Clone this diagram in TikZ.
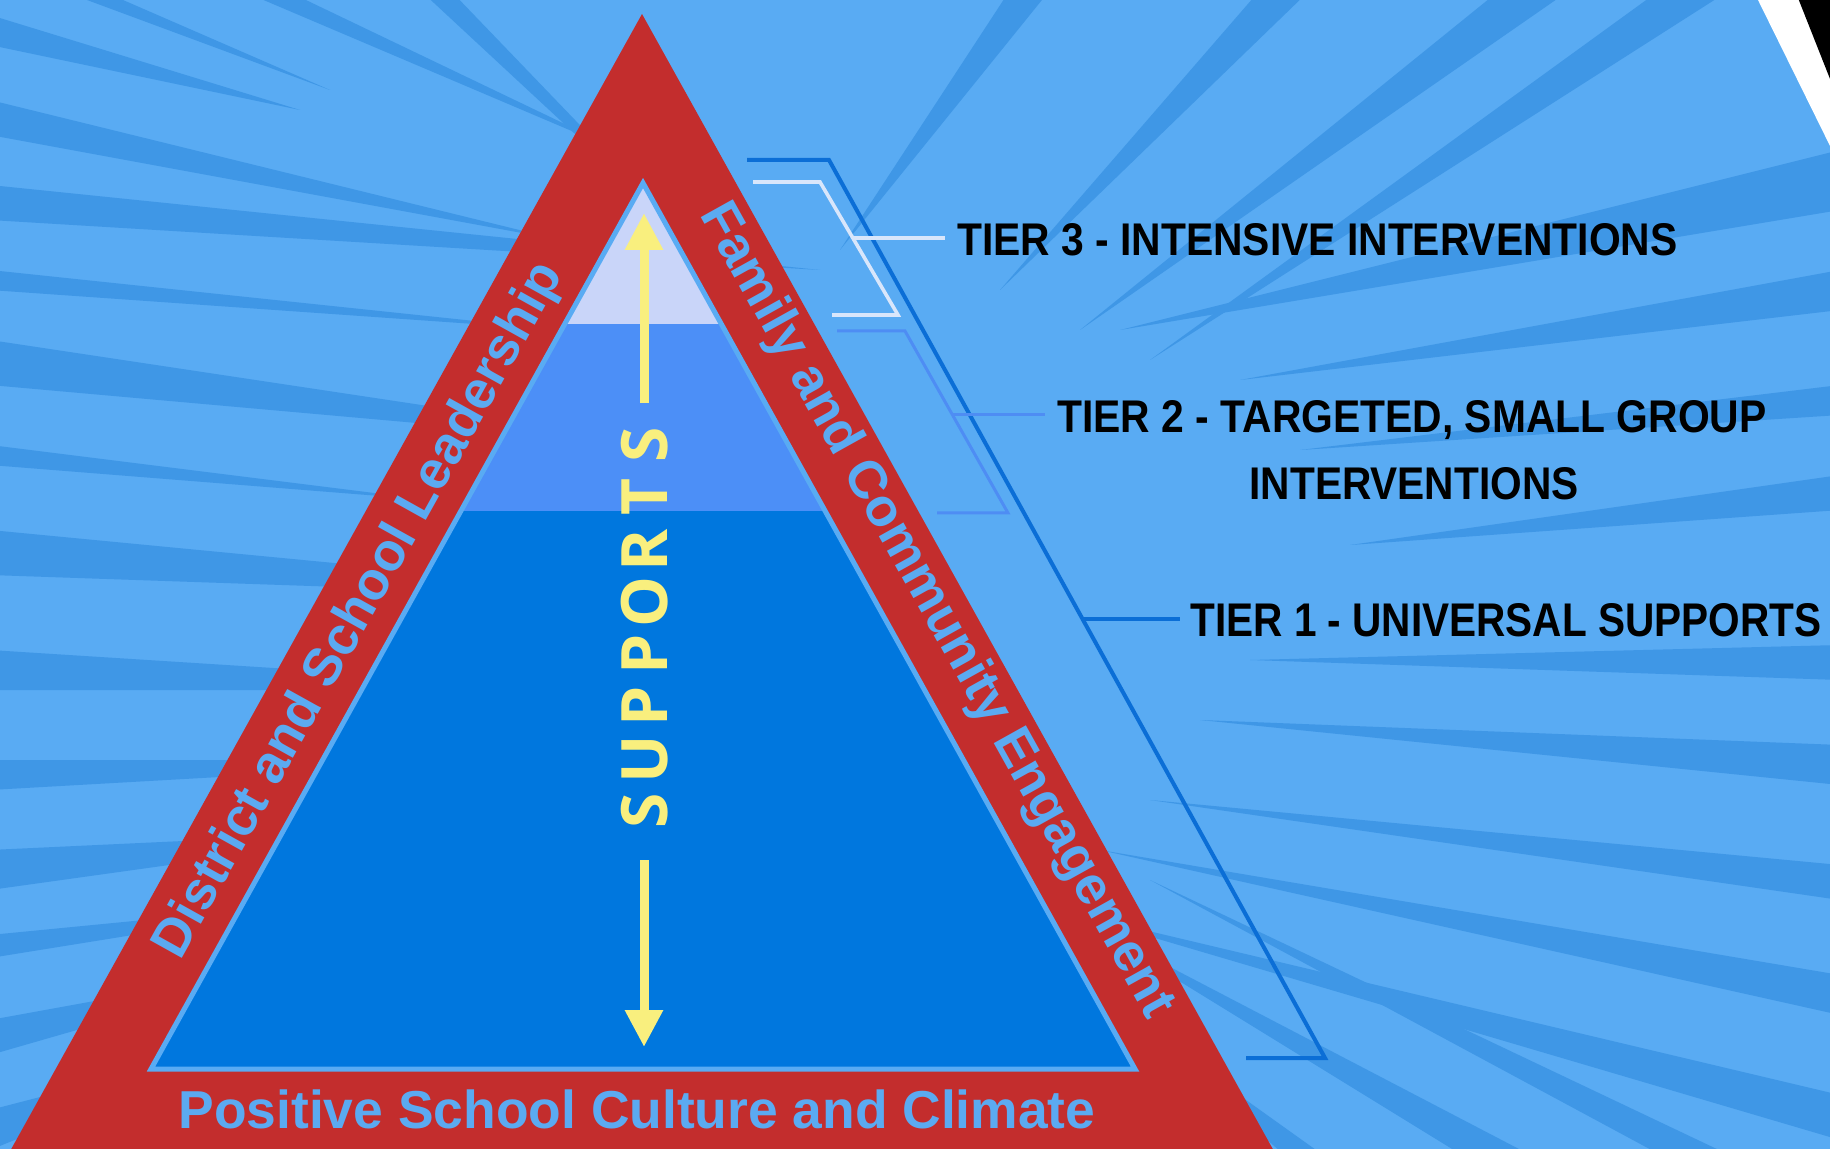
\documentclass[tikz,border=0pt]{standalone}
\usepackage{fontspec}
\usepackage{graphicx}
\setmainfont{Liberation Sans}
\newfontfamily\supfont{Open Sans}
\usetikzlibrary{arrows.meta}
\definecolor{bglight}{HTML}{59ABF3}
\definecolor{bgray}{HTML}{3F97E6}
\definecolor{redband}{HTML}{C32D2D}
\definecolor{tierthree}{HTML}{C9D5F9}
\definecolor{tiertwo}{HTML}{4C8FF7}
\definecolor{tierone}{HTML}{0077DE}
\definecolor{brkdark}{HTML}{0B6ED6}
\definecolor{brklight}{HTML}{D8E6FB}
\definecolor{brkmid}{HTML}{4E8DF3}
\definecolor{suppyellow}{HTML}{F9EF7E}
\definecolor{bandtext}{HTML}{5BAAF1}
\newcommand{\tierbox}[3]{\resizebox{#1}{#2}{\bfseries #3}}
\begin{document}
\begin{tikzpicture}[x=0.5pt,y=-0.5pt,
  ray/.style={fill=bgray},
  bandlbl/.style={text=bandtext, font=\fontsize{26.7pt}{32pt}\selectfont\bfseries, inner sep=0pt},
  tierlbl/.style={text=black, inner sep=0pt, anchor=base west},
  suplbl/.style={text=suppyellow, font=\supfont\fontsize{32pt}{36pt}\selectfont\bfseries, inner sep=0pt, rotate=90},
  suparrow/.style={draw=suppyellow, line width=4.5pt, -{Triangle[length=18.5pt,width=18pt]}},
  brkdarkline/.style={draw=brkdark, line width=2pt},
  brklightline/.style={draw=brklight, line width=1.8pt},
  brkmidline/.style={draw=brkmid, line width=1.5pt}]
\useasboundingbox (0,0) rectangle (1830,1149);
\clip (0,0) rectangle (1830,1149);
\fill[bglight] (0,0) rectangle (1830,1149);
% background speed lines
\foreach \ax/\ay/\bx/\by/\tx/\ty in {
 -10/15/-10/45/300/110, -10/100/-10/135/560/240, -10/185/-10/220/820/270,
 -10/270/-10/290/560/330, -10/340/-10/385/720/450, -10/445/-10/465/430/500,
 -10/530/-10/575/720/600, -10/650/-10/690/620/690, -10/760/-10/790/520/760,
 -10/850/-10/890/420/830, -10/935/-10/958/350/900, -10/1020/-10/1055/320/960,
 -10/1110/-10/1150/260/1040,
 60/-10/100/-10/330/90, 240/-10/285/-10/640/160, 420/-10/450/-10/700/250,
 1010/-10/1050/-10/840/250, 1260/-10/1310/-10/1000/290, 1500/-10/1570/-10/1080/330,
 1660/-10/1730/-10/1150/360,
 1840/150/1840/210/1120/330, 1840/270/1840/310/1240/380, 1840/385/1840/415/1300/450,
 1840/475/1840/510/1350/545, 1840/645/1840/680/1250/660, 1840/745/1840/785/1200/720,
 1840/865/1840/900/1150/800, 1840/975/1840/1015/1100/850, 1840/1095/1840/1140/1060/910,
 1470/1160/1540/1160/1080/920, 1290/1160/1330/1160/1120/1010, 1670/1160/1740/1160/1150/880}
 \fill[ray] (\ax,\ay) -- (\tx,\ty) -- (\bx,\by) -- cycle;
% top-right corner
\fill[white] (1757,-2) -- (1832,150) -- (1832,-2) -- cycle;
\fill[black] (1798,-2) -- (1832,84) -- (1832,-2) -- cycle;
% red triangle
\fill[redband] (642,14) -- (1280,1162) -- (4,1162) -- cycle;
% tiers
\begin{scope}
\clip (643,183) -- (1135,1069) -- (151,1069) -- cycle;
\fill[tierone] (0,511) rectangle (1830,1100);
\fill[tiertwo] (0,324) rectangle (1830,511);
\fill[tierthree] (0,0) rectangle (1830,324);
\end{scope}
\draw[bglight, line width=2.5pt] (643,183) -- (1135,1069) -- (151,1069) -- cycle;
% band labels
\node[bandlbl, rotate=60.9] (lead) at (360,611) {District and School Leadership};
\node[bandlbl, rotate=-60.9] (family) at (936,611) {Family and Community Engagement};
\node[bandlbl, anchor=base] (climate) at (637,1128) {Positive School Culture and Climate};
% supports
\foreach \ch/\yy [count=\i] in {S/811, U/759, P/706, P/654, O/602, R/550, T/497, S/445}
  \node[suplbl] (sup\i) at (645,\yy) {\ch};
\coordinate (aus) at (644,403);
\coordinate (aue) at (644,213);
\coordinate (ads) at (644,860);
\coordinate (ade) at (644,1047);
\draw[suparrow] (aus) -- (aue);
\draw[suparrow] (ads) -- (ade);
% tier labels
\node[tierlbl] (t3) at (957,256) {\tierbox{360pt}{16pt}{TIER 3 - INTENSIVE INTERVENTIONS}};
\node[tierlbl] (t2a) at (1057,433) {\tierbox{354.5pt}{16pt}{TIER 2 - TARGETED, SMALL GROUP}};
\node[tierlbl, anchor=base] (t2b) at (1414,500) {\tierbox{164.5pt}{16pt}{INTERVENTIONS}};
\node[tierlbl] (t1) at (1190,636) {\tierbox{315.5pt}{16.5pt}{TIER 1 - UNIVERSAL SUPPORTS}};
% brackets
\coordinate (d1) at (747,160); \coordinate (d2) at (829,160);
\coordinate (d3) at (1325,1058); \coordinate (d4) at (1246,1058);
\draw[brkdarkline] (d1) -- (d2) -- (d3) -- (d4);
\coordinate (l1) at (753,182); \coordinate (l2) at (820,182);
\coordinate (l3) at (898,315); \coordinate (l4) at (832,315);
\draw[brklightline] (l1) -- (l2) -- (l3) -- (l4);
\coordinate (m1) at (837,331); \coordinate (m2) at (905,331);
\coordinate (m3) at (1008,513); \coordinate (m4) at (937,513);
\draw[brkmidline] (m1) -- (m2) -- (m3) -- (m4);
\coordinate (b3) at (853,238);
\coordinate (b2) at (953,415);
\coordinate (b1) at (1083,619);
\draw[brklightline, shorten >=6pt] (b3) -- (b3 -| t3.west);
\draw[brkmidline, shorten >=6pt] (b2) -- (b2 -| t2a.west);
\draw[brkdarkline, shorten >=5pt] (b1) -- (b1 -| t1.west);
\end{tikzpicture}
\end{document}
